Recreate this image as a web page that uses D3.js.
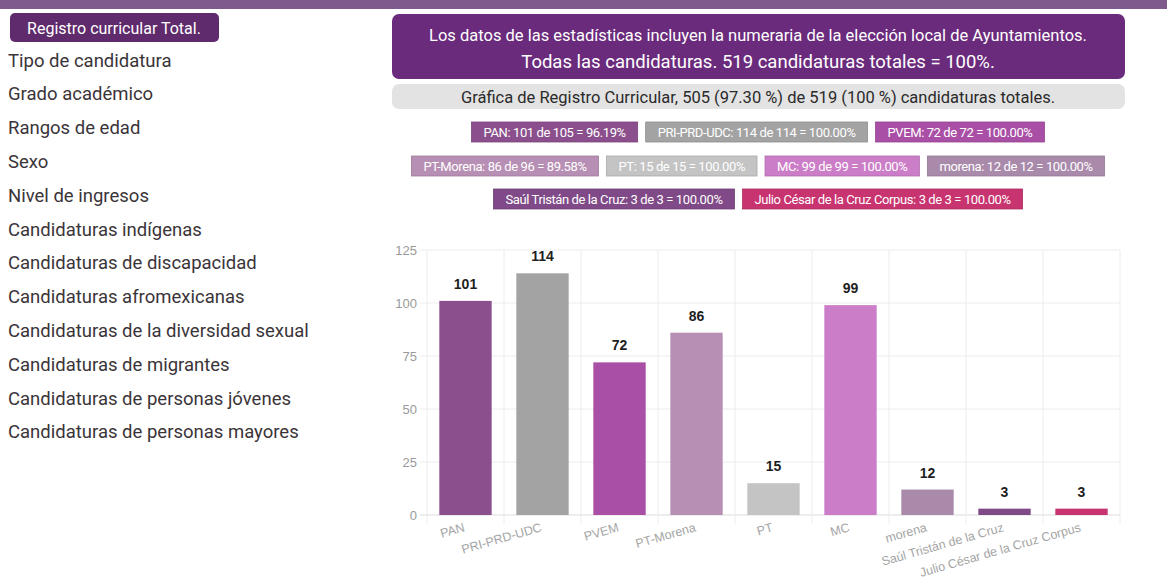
<!DOCTYPE html>
<html>
<head>
<meta charset="utf-8">
<script src="https://cdn.jsdelivr.net/npm/d3@7"></script>
<style>
  body { margin: 0; background: #fff; }
  svg { display: block; }
</style>
</head>
<body>
<div id="chart"></div>
<script>
// Datos
const partidos = ["PAN", "PRI-PRD-UDC", "PVEM", "PT-Morena", "PT", "MC", "morena",
  "Saúl Tristán de la Cruz", "Julio César de la Cruz Corpus"];
const registrados = [101, 114, 72, 86, 15, 99, 12, 3, 3];
const totales = [105, 114, 72, 96, 15, 99, 12, 3, 3];
const colores = ["#8a4f8c", "#a3a3a3", "#a94fa6", "#b78fb4", "#c4c4c4", "#cb7dc7",
  "#a98aab", "#7f4a87", "#c8346f"];
const filasBadges = [[0, 1, 2], [3, 4, 5, 6], [7, 8]];
const yTicks = [0, 25, 50, 75, 100, 125];
const menu = ["Tipo de candidatura", "Grado académico", "Rangos de edad", "Sexo",
  "Nivel de ingresos", "Candidaturas indígenas", "Candidaturas de discapacidad",
  "Candidaturas afromexicanas", "Candidaturas de la diversidad sexual",
  "Candidaturas de migrantes", "Candidaturas de personas jóvenes",
  "Candidaturas de personas mayores"];

function main() {
  const W = 1167, H = 587;
  const svg = d3.select("#chart").append("svg")
    .attr("width", W).attr("height", H);

  // franja superior
  svg.append("rect").attr("x", 0).attr("y", 0).attr("width", W).attr("height", 9)
    .attr("fill", "#7f5a8c");

  // panel izquierdo
  svg.append("rect").attr("x", 10).attr("y", 13).attr("width", 209).attr("height", 29)
    .attr("rx", 5).attr("fill", "#5f2b6c");
  svg.append("text").attr("x", 114).attr("y", 34)
    .attr("text-anchor", "middle").attr("fill", "#fff")
    .style("font", "16px Roboto")
    .text("Registro curricular Total.");

  svg.append("g").selectAll("text")
    .data(menu).enter().append("text")
    .attr("x", 8)
    .attr("y", (d, i) => 66.5 + i * 33.8)
    .attr("fill", "#3a3439")
    .style("font", "18.5px Roboto")
    .text(d => d);

  // encabezado
  const cx = 758;
  svg.append("rect").attr("x", 392).attr("y", 14).attr("width", 733).attr("height", 65)
    .attr("rx", 7).attr("fill", "#6b2b7d");
  svg.append("text").attr("x", cx).attr("y", 41).attr("text-anchor", "middle")
    .attr("fill", "#fff").style("font", "16.5px Roboto")
    .text("Los datos de las estadísticas incluyen la numeraria de la elección local de Ayuntamientos.");
  const sumTot = d3.sum(totales), sumReg = d3.sum(registrados);
  svg.append("text").attr("x", cx).attr("y", 67.5).attr("text-anchor", "middle")
    .attr("fill", "#fff").style("font", "18.5px Roboto")
    .text("Todas las candidaturas. " + sumTot + " candidaturas totales = 100%.");

  svg.append("rect").attr("x", 392).attr("y", 84).attr("width", 733).attr("height", 25)
    .attr("rx", 7).attr("fill", "#e3e3e3");
  svg.append("text").attr("x", cx).attr("y", 102.5).attr("text-anchor", "middle")
    .attr("fill", "#2a2a2a").style("font", "16.5px Roboto")
    .text("Gráfica de Registro Curricular, " + sumReg + " (" + (sumReg / sumTot * 100).toFixed(2) +
      " %) de " + sumTot + " (100 %) candidaturas totales.");

  // badges
  const rowY = [122, 156, 189];
  filasBadges.forEach(function (fila, r) {
    const g = svg.append("g");
    const items = fila.map(function (i) {
      const t = partidos[i] + ": " + registrados[i] + " de " + totales[i] + " = " +
        (registrados[i] / totales[i] * 100).toFixed(2) + "%";
      const txt = g.append("text").attr("fill", "#fff")
        .style("font", "13px Roboto").style("letter-spacing", "-0.4px")
        .attr("text-anchor", "middle").text(t);
      const w = txt.node().getComputedTextLength() + 24;
      return { i: i, txt: txt, w: w };
    });
    const gap = 8;
    const total = d3.sum(items, d => d.w) + gap * (items.length - 1);
    let x = cx - total / 2;
    items.forEach(function (it) {
      g.insert("rect", "text").attr("x", x).attr("y", rowY[r]).attr("width", it.w)
        .attr("height", 20).attr("fill", colores[it.i])
        .attr("stroke", d3.color(colores[it.i]).darker(0.4)).attr("stroke-width", 0.8);
      it.txt.attr("x", x + it.w / 2).attr("y", rowY[r] + 14.5);
      x += it.w + gap;
    });
  });

  // gráfica
  const xScale = d3.scaleBand().domain(partidos).range([427, 1120]);
  const yScale = d3.scaleLinear().domain([0, 125]).range([515, 250]);
  const barW = xScale.bandwidth() * 0.68;

  const grid = svg.append("g");
  grid.selectAll("line.h").data(yTicks).enter().append("line")
    .attr("x1", 420).attr("x2", 1120)
    .attr("y1", d => yScale(d)).attr("y2", d => yScale(d))
    .attr("stroke", d => d === 0 ? "#dcdcdc" : "#ececec").attr("stroke-width", 1);
  const bounds = partidos.map(p => xScale(p)).concat([1120]);
  grid.selectAll("line.v").data(bounds).enter().append("line")
    .attr("x1", d => d).attr("x2", d => d)
    .attr("y1", 250).attr("y2", 524)
    .attr("stroke", "#ececec").attr("stroke-width", 1);

  svg.append("g").selectAll("text").data(yTicks).enter().append("text")
    .attr("x", 417).attr("y", d => yScale(d) + 4.5)
    .attr("text-anchor", "end").attr("fill", "#9a9a9a")
    .style("font", "13px 'Liberation Sans'")
    .text(d => d);

  svg.append("g").selectAll("rect").data(partidos).enter().append("rect")
    .attr("x", d => xScale(d) + (xScale.bandwidth() - barW) / 2)
    .attr("y", (d, i) => yScale(registrados[i]))
    .attr("width", barW)
    .attr("height", (d, i) => yScale(0) - yScale(registrados[i]))
    .attr("fill", (d, i) => colores[i]);

  svg.append("g").selectAll("text").data(partidos).enter().append("text")
    .attr("x", d => xScale(d) + xScale.bandwidth() / 2)
    .attr("y", (d, i) => yScale(registrados[i]) - 12)
    .attr("text-anchor", "middle").attr("fill", "#1e1e1e")
    .style("font", "bold 14px 'Liberation Sans'")
    .text((d, i) => registrados[i]);

  svg.append("g").selectAll("text").data(partidos).enter().append("text")
    .attr("transform", d => "translate(" + (xScale(d) + xScale.bandwidth() / 2) + ",531) rotate(-16)")
    .attr("text-anchor", "end").attr("fill", "#a5a5a5")
    .style("font", "12.5px 'Liberation Sans'")
    .text(d => d);
}

window.onload = function () {
  main();
};
</script>
</body>
</html>
